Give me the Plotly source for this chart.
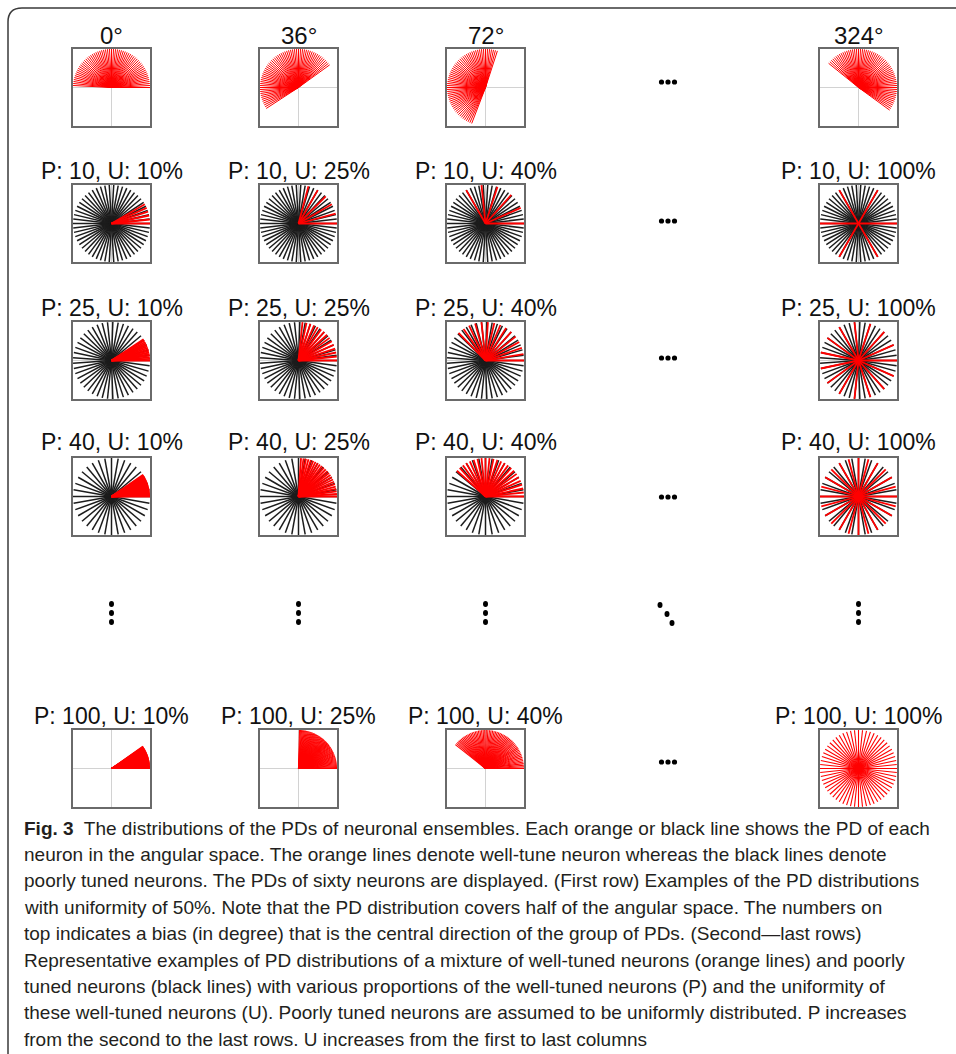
import numpy as np
import plotly.graph_objects as go

W, H = 956, 1054

# ---- data -------------------------------------------------------------
n_neurons = 60                      # neurons per ensemble
bias_deg = [0, 36, 72, 324]         # first row: central direction of the PDs
bias_uniformity = 50                # first row uses U = 50 %
P_levels = [10, 25, 40, 100]        # proportion of well-tuned neurons (rows)
U_levels = [10, 25, 40, 100]        # uniformity of well-tuned neurons (columns)

bias_titles = [f"{b}°" for b in bias_deg]
row_titles = [[f"P: {p}, U: {u}%" for u in U_levels] for p in P_levels]

caption_lines = [
    "<b>Fig. 3</b>  The distributions of the PDs of neuronal ensembles. Each orange or black line shows the PD of each",
    "neuron in the angular space. The orange lines denote well-tune neuron whereas the black lines denote",
    "poorly tuned neurons. The PDs of sixty neurons are displayed. (First row) Examples of the PD distributions",
    "with uniformity of 50%. Note that the PD distribution covers half of the angular space. The numbers on",
    "top indicates a bias (in degree) that is the central direction of the group of PDs. (Second—last rows)",
    "Representative examples of PD distributions of a mixture of well-tuned neurons (orange lines) and poorly",
    "tuned neurons (black lines) with various proportions of the well-tuned neurons (P) and the uniformity of",
    "these well-tuned neurons (U). Poorly tuned neurons are assumed to be uniformly distributed. P increases",
    "from the second to the last rows. U increases from the first to last columns",
]

# ---- layout geometry (pixels) ----------------------------------------
col_cx = [111.5, 298.5, 485.5, 858.5]
dots_cx = 668
row_top = [49, 185, 322, 458, 730]
title_cy = [35, 171, 308, 442, 716]
dots_cy = [82, 221, 358, 497, 762]
vdots_cy = 613
box = 77
caption_y0, caption_dy = 828, 26.4

RED = "#ff0000"
BLACK = "#1c1c1c"


def px(x):
    return x / W


def py(y):
    return 1 - y / H


def pd_angles(p, u, start=0.0):
    """Return (well-tuned, poorly-tuned) preferred directions in degrees."""
    n_good = int(round(n_neurons * p / 100))
    span = 360.0 * u / 100
    good = start + np.arange(n_good) * span / n_good
    n_bad = n_neurons - n_good
    bad = np.arange(n_bad) * 360.0 / n_bad if n_bad else np.array([])
    return good, bad


def rays(angles):
    xs, ys = [], []
    for a in np.deg2rad(angles):
        xs += [0, np.cos(a), None]
        ys += [0, np.sin(a), None]
    return xs, ys


fig = go.Figure()
layout_axes = {}
annotations = []
shapes = []
panel = 0


def add_panel(cx, top, good, bad, red_w, black_w):
    global panel
    panel += 1
    xa = "x" if panel == 1 else f"x{panel}"
    ya = "y" if panel == 1 else f"y{panel}"
    xkey = "xaxis" if panel == 1 else f"xaxis{panel}"
    ykey = "yaxis" if panel == 1 else f"yaxis{panel}"
    ax = dict(range=[-1, 1], showgrid=False, showticklabels=False, ticks="",
              zeroline=True, zerolinecolor="#d2d2d2", zerolinewidth=1,
              showline=True, mirror=True, linecolor="#6a6a6a", linewidth=1.6,
              fixedrange=True)
    layout_axes[xkey] = dict(ax, domain=[px(cx - box / 2), px(cx + box / 2)], anchor=ya)
    layout_axes[ykey] = dict(ax, domain=[py(top + box), py(top)], anchor=xa)
    if len(bad):
        bx, by = rays(bad)
        fig.add_trace(go.Scatter(x=bx, y=by, mode="lines", xaxis=xa, yaxis=ya,
                                 line=dict(color=BLACK, width=black_w),
                                 hoverinfo="skip", showlegend=False))
    gx, gy = rays(good)
    fig.add_trace(go.Scatter(x=gx, y=gy, mode="lines", xaxis=xa, yaxis=ya,
                             line=dict(color=RED, width=red_w),
                             hoverinfo="skip", showlegend=False))


def add_title(text, cx, cy, size=23):
    annotations.append(dict(text=text, x=px(cx), y=py(cy), xref="paper", yref="paper",
                            xanchor="center", yanchor="middle", showarrow=False,
                            font=dict(family="Liberation Sans, Arial", size=size, color="#111111")))


def add_dot(cx, cy, rx=2.5, ry=3.0):
    shapes.append(dict(type="circle", xref="paper", yref="paper",
                       x0=px(cx - rx), x1=px(cx + rx), y0=py(cy + ry), y1=py(cy - ry),
                       fillcolor="#000000", line=dict(width=0)))


# first row: bias examples
for c, b in enumerate(bias_deg):
    good, _ = pd_angles(100, bias_uniformity, start=b)
    add_panel(col_cx[c], row_top[0], good, np.array([]), 1.0, 1.5)
    add_title(bias_titles[c], col_cx[c], title_cy[0], size=24)

# mixture rows
for r, p in enumerate(P_levels):
    for c, u in enumerate(U_levels):
        good, bad = pd_angles(p, u)
        red_w = 1.1 if p == 100 else 1.8
        add_panel(col_cx[c], row_top[r + 1], good, bad, red_w, 1.5)
        add_title(row_titles[r][c], col_cx[c], title_cy[r + 1])

# horizontal ellipses in the gap column
for cy in dots_cy:
    for dx in (-6.5, 0, 6.5):
        add_dot(dots_cx + dx, cy, 2.6, 2.6)

# vertical ellipses between rows
for cx in col_cx:
    for dy in (-9, 0, 9):
        add_dot(cx, vdots_cy + dy)
# diagonal ellipsis
for dx, dy in ((-7, -8), (0, 1), (5, 10)):
    add_dot(dots_cx + dx - 1, vdots_cy + dy)

# caption
for i, line in enumerate(caption_lines):
    annotations.append(dict(text=line, x=px(22), y=py(caption_y0 + i * caption_dy),
                            xref="paper", yref="paper", xanchor="left", yanchor="middle",
                            showarrow=False,
                            font=dict(family="Liberation Sans, Arial, sans-serif",
                                      size=19, color="#231f20")))

# frame around the figure (open at right and bottom)
r = 14
frame = (f"M {px(W + 5)},{py(8)} L {px(8 + r)},{py(8)} "
         f"Q {px(8)},{py(8)} {px(8)},{py(8 + r)} L {px(8)},{py(H + 5)}")
shapes.append(dict(type="path", xref="paper", yref="paper", path=frame,
                   line=dict(color="#3a3a3a", width=1.5)))

fig.update_layout(
    width=W, height=H, margin=dict(l=0, r=0, t=0, b=0),
    paper_bgcolor="white", plot_bgcolor="white",
    annotations=annotations, shapes=shapes, showlegend=False,
    **layout_axes,
)

fig.write_html("out.html")
